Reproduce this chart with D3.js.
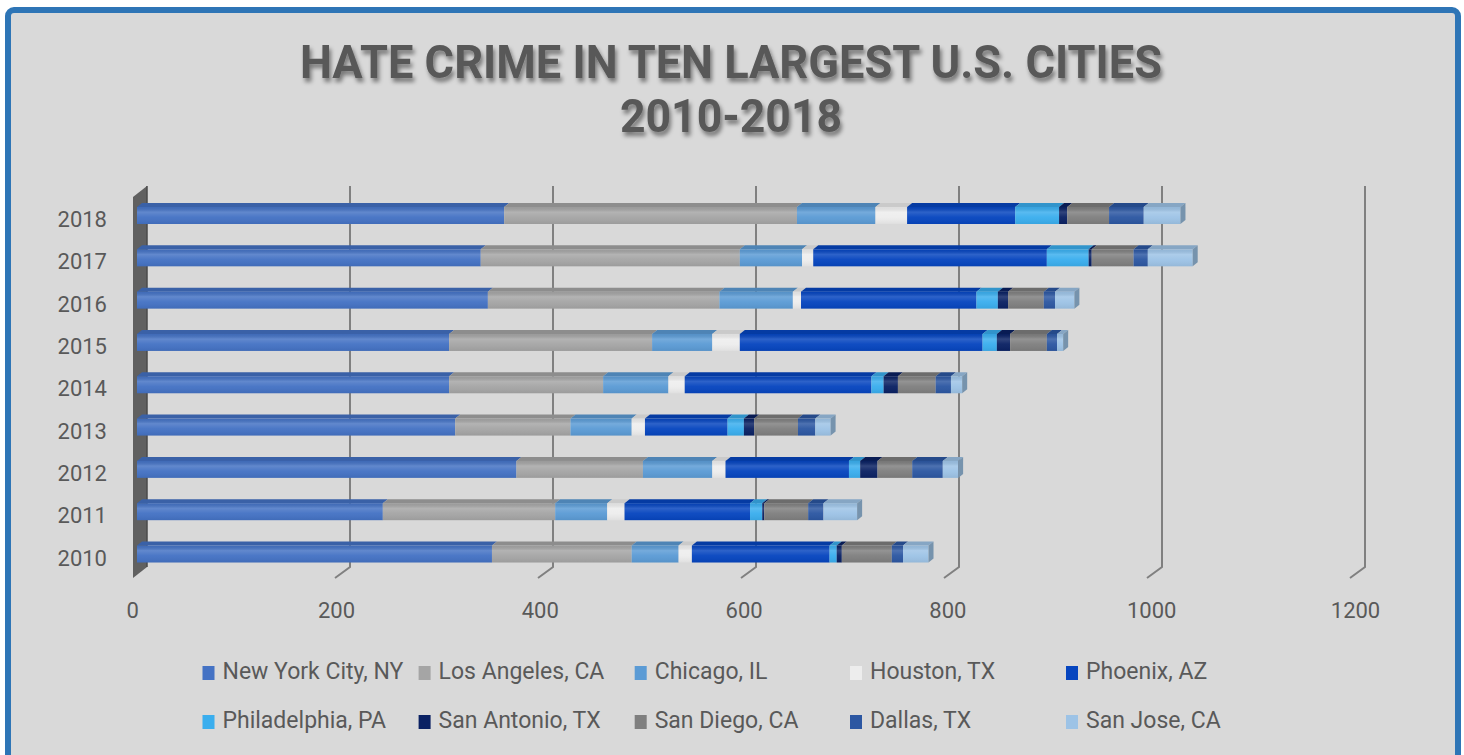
<!DOCTYPE html>
<html>
<head>
<meta charset="utf-8">
<script src="https://cdn.jsdelivr.net/npm/d3@7/dist/d3.min.js"></script>
<style>
  html, body { margin: 0; padding: 0; background: #ffffff; }
  svg { display: block; }
</style>
</head>
<body>
<svg id="chart" width="1464" height="755"></svg>
<script>
// ---------- DATA ----------
const years = ["2018", "2017", "2016", "2015", "2014", "2013", "2012", "2011", "2010"];
const cities = ["New York City, NY", "Los Angeles, CA", "Chicago, IL", "Houston, TX", "Phoenix, AZ",
                "Philadelphia, PA", "San Antonio, TX", "San Diego, CA", "Dallas, TX", "San Jose, CA"];
// values per city, in the order of `years`
const newYork      = [360, 337, 344, 306, 306, 312, 372, 241, 348];
const losAngeles   = [287, 254, 227, 199, 151, 113, 124, 169, 137];
const chicago      = [77, 61, 72, 59, 64, 60, 68, 51, 46];
const houston      = [31, 11, 8, 27, 16, 13, 13, 17, 13];
const phoenix      = [106, 229, 172, 238, 183, 81, 121, 123, 135];
const philadelphia = [43, 41, 21, 14, 12, 16, 11, 12, 7];
const sanAntonio   = [8, 3, 10, 13, 14, 10, 17, 2, 5];
const sanDiego     = [41, 41, 35, 36, 37, 43, 34, 43, 49];
const dallas       = [34, 14, 11, 10, 15, 17, 30, 15, 11];
const sanJose      = [36, 44, 19, 6, 11, 15, 15, 33, 25];
const xTicks = [0, 200, 400, 600, 800, 1000, 1200];
const colors = ["#4472C4", "#A5A5A5", "#5B9BD5", "#EDEDED", "#0645BF",
                "#3AAEEE", "#0A2163", "#7F7F7F", "#2C57A2", "#9DC3E6"];
const titleLines = ["HATE CRIME IN TEN LARGEST U.S. CITIES", "2010-2018"];

const series = [newYork, losAngeles, chicago, houston, phoenix, philadelphia, sanAntonio, sanDiego, dallas, sanJose];
const rows = years.map((y, i) => {
  const r = { year: y };
  cities.forEach((c, j) => r[c] = series[j][i]);
  return r;
});

// ---------- SETUP ----------
const svg = d3.select("#chart");
const font = "Roboto, 'Open Sans', sans-serif";
const defs = svg.append("defs");

// panel
svg.append("rect").attr("x", 8).attr("y", 10).attr("width", 1450).attr("height", 770)
  .attr("rx", 6).attr("fill", "#d9d9d9").attr("stroke", "#2E75B6").attr("stroke-width", 6);

// title shadow filter
const f = defs.append("filter").attr("id", "tshadow").attr("x", "-5%").attr("y", "-30%").attr("width", "110%").attr("height", "160%");
f.append("feDropShadow").attr("dx", 2).attr("dy", 4).attr("stdDeviation", 2)
  .attr("flood-color", "#000").attr("flood-opacity", 0.45);

const titleG = svg.append("g").attr("filter", "url(#tshadow)");
const titleSpec = [{ y: 78, len: 862 }, { y: 132, len: 222 }];
titleLines.forEach((t, i) => {
  titleG.append("text").attr("x", 731).attr("y", titleSpec[i].y)
    .attr("text-anchor", "middle").attr("font-family", font).attr("font-weight", 700)
    .attr("font-size", 46).attr("fill", "#595959")
    .attr("textLength", titleSpec[i].len).attr("lengthAdjust", "spacingAndGlyphs")
    .text(t);
});

// scales
const xBar = d3.scaleLinear().domain([0, 1200]).range([137, 137 + 1200 * 1.02]);
const xBack = d3.scaleLinear().domain([0, 1200]).range([147, 1365]);
const xLabel = d3.scaleLinear().domain([0, 1200]).range([132.7, 132.7 + 1200 * 1.019]);
const yC = d3.scalePoint().domain(years).range([215.5, 554]);
const barH = 17, dX = 5, dY = 4;
const backTop = 186, backBot = 567, frontBot = 578, depthX = 15;

// gridlines
const grid = svg.append("g");
xTicks.filter(v => v > 0).forEach(v => {
  const xb = xBack(v);
  grid.append("path")
    .attr("d", `M${xb},${backTop} L${xb},${backBot} L${xb - depthX},${frontBot}`)
    .attr("fill", "none").attr("stroke", "#808080").attr("stroke-width", 2);
});

// left wall
svg.append("path")
  .attr("d", `M133,197 L147,${backTop} L147,${backBot} L133,${frontBot} Z`)
  .attr("fill", "#606060");
svg.append("line").attr("x1", 147).attr("x2", 147).attr("y1", backTop).attr("y2", backBot)
  .attr("stroke", "#4a4a4a").attr("stroke-width", 1.5);

// gradient overlay for front faces
const g1 = defs.append("linearGradient").attr("id", "shine").attr("x1", 0).attr("x2", 0).attr("y1", 0).attr("y2", 1);
[[0, "#000", 0.06], [0.3, "#fff", 0.16], [0.6, "#fff", 0.04], [1, "#000", 0.06]].forEach(s =>
  g1.append("stop").attr("offset", s[0]).attr("stop-color", s[1]).attr("stop-opacity", s[2]));

// bars
const stack = d3.stack().keys(cities)(rows);
const bars = svg.append("g");
stack.forEach((layer, j) => {
  const base = d3.color(colors[j]);
  const topC = base.darker(0.45).formatHex();
  const sideC = base.darker(0.8).formatHex();
  layer.forEach(d => {
    const yr = d.data.year;
    const x0 = xBar(d[0]), x1 = xBar(d[1]);
    const yt = yC(yr) - barH / 2, yb = yC(yr) + barH / 2;
    if (x1 - x0 <= 0) return;
    bars.append("path")
      .attr("d", `M${x0},${yt} L${x1},${yt} L${x1 + dX},${yt - dY} L${x0 + dX},${yt - dY} Z`)
      .attr("fill", topC);
    bars.append("rect").attr("x", x0).attr("y", yt).attr("width", x1 - x0).attr("height", barH)
      .attr("fill", colors[j]);
    bars.append("rect").attr("x", x0).attr("y", yt).attr("width", x1 - x0).attr("height", barH)
      .attr("fill", "url(#shine)");
    if (j === cities.length - 1) {
      bars.append("path")
        .attr("d", `M${x1},${yt} L${x1 + dX},${yt - dY} L${x1 + dX},${yb - dY} L${x1},${yb} Z`)
        .attr("fill", sideC);
    }
  });
});

// y axis labels
const yAxis = svg.append("g");
years.forEach(y => {
  yAxis.append("text").attr("x", 107).attr("y", yC(y) + 11.5)
    .attr("text-anchor", "end").attr("font-family", font).attr("font-size", 22)
    .attr("fill", "#595959").text(y);
});

// x axis labels
const xAxis = svg.append("g");
xTicks.forEach(v => {
  xAxis.append("text").attr("x", xLabel(v)).attr("y", 618)
    .attr("text-anchor", "middle").attr("font-family", font).attr("font-size", 22)
    .attr("fill", "#595959").text(d3.format("d")(v));
});

// legend
const colX = [202.5, 418.6, 634.7, 850, 1066];
const rowY = [679, 728];
const legend = svg.append("g");
cities.forEach((c, i) => {
  const cx = colX[i % 5], by = rowY[Math.floor(i / 5)];
  legend.append("rect").attr("x", cx).attr("y", by - 13).attr("width", 12).attr("height", 14)
    .attr("fill", colors[i]);
  legend.append("text").attr("x", cx + 20).attr("y", by)
    .attr("font-family", font).attr("font-size", 23).attr("fill", "#595959").text(c);
});
</script>
</body>
</html>
